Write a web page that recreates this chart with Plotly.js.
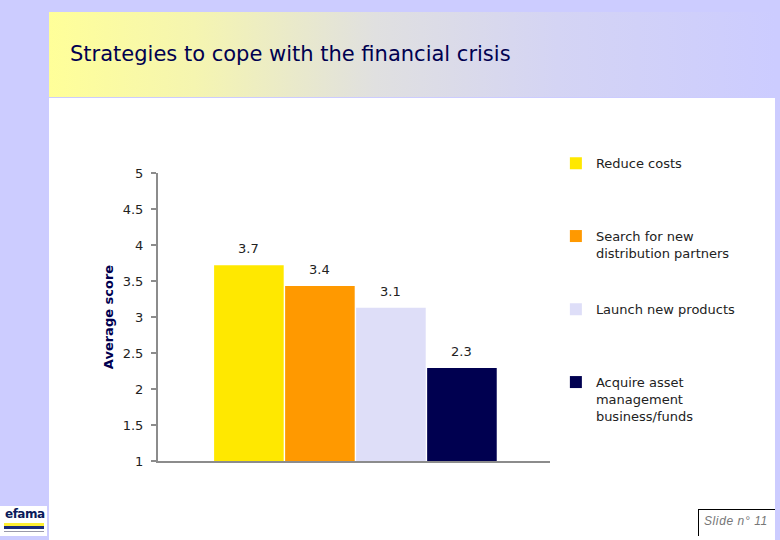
<!DOCTYPE html>
<html>
<head>
<meta charset="utf-8">
<script src="https://cdn.plot.ly/plotly-3.0.1.min.js"></script>
<style>
  html, body { margin: 0; padding: 0; }
  body { width: 780px; height: 540px; background: #ccccff; position: relative; overflow: hidden; }
  .banner { position: absolute; left: 49px; top: 12px; width: 726px; height: 85px;
            background: linear-gradient(to right, #ffff99 0%, #f5f5b0 20%, #e0e0e0 45%, #d4d4f4 70%, #ccccff 100%); }
  .panel { position: absolute; left: 49px; top: 98px; width: 726px; height: 442px; background: #ffffff; }
  .logo { position: absolute; left: 0; top: 506px; width: 47px; height: 30px; background: #ffffff; }
  .logo .word { position: absolute; left: 5px; top: 1px; font: bold 12px "DejaVu Sans", sans-serif; color: #0a1a5a; letter-spacing: -0.5px; }
  .logo .y { position: absolute; left: 4px; top: 17px; width: 40px; height: 3px; background: #ffee33; }
  .logo .b { position: absolute; left: 4px; top: 20px; width: 40px; height: 3px; background: #1a2a7a; }
  .logo .t { position: absolute; left: 4px; top: 25px; width: 40px; height: 1px; background: #9999aa; }
  .slide { position: absolute; left: 698px; top: 509px; width: 76px; height: 26px;
           border-top: 1px solid #000; border-left: 1px solid #000; }
  .slide span { position: absolute; left: 5px; top: 4px; font: italic 12px "Liberation Sans", sans-serif; color: #777777; letter-spacing: 0.6px; }
  #chart { position: absolute; left: 0; top: 0; width: 780px; height: 540px; }
</style>
</head>
<body>
<div class="banner"></div>
<div class="panel"></div>
<div class="logo"><div class="word">efama</div><div class="y"></div><div class="b"></div><div class="t"></div></div>
<div class="slide"><span>Slide n° 11</span></div>
<div id="chart"></div>
<script>
// one bar per strategy, each its own trace so each gets a legend entry
const strategies = ['Reduce costs', 'Search for new<br>distribution partners', 'Launch new products', 'Acquire asset<br>management<br>business/funds'];
const positions = [0, 1, 2, 3];
const scores = [3.72, 3.43, 3.13, 2.29];
const scoreLabels = ['3.7', '3.4', '3.1', '2.3'];
const barColors = ['#ffe800', '#ff9900', '#dedef8', '#000050'];

const legendNames = ['legend', 'legend2', 'legend3', 'legend4'];
const legendY = [1.086, 0.833, 0.579, 0.326];

let traces = strategies.map((name, i) => ({
    type: 'bar',
    x: [positions[i]],
    y: [scores[i]],
    width: 0.98,
    name: name,
    legend: legendNames[i],
    marker: { color: barColors[i], line: { width: 0 } },
    hoverinfo: 'skip'
}));

let annotations = scores.map((s, i) => ({
    x: positions[i],
    y: s,
    xref: 'x',
    yref: 'y',
    text: scoreLabels[i],
    showarrow: false,
    yanchor: 'bottom',
    yshift: 7,
    font: { family: 'DejaVu Sans, sans-serif', size: 13, color: '#222222' }
}));

let layout = {
    width: 780,
    height: 540,
    paper_bgcolor: 'rgba(0,0,0,0)',
    plot_bgcolor: 'rgba(0,0,0,0)',
    margin: { l: 158, r: 230, t: 173, b: 79 },
    showlegend: true,
    font: { family: 'DejaVu Sans, sans-serif', size: 13, color: '#222222' },
    title: {
        text: 'Strategies to cope with the financial crisis',
        xref: 'container', yref: 'container',
        x: 70 / 780, xanchor: 'left',
        y: 1 - 54 / 540, yanchor: 'middle',
        font: { family: 'DejaVu Sans, sans-serif', size: 21, color: '#000050' }
    },
    xaxis: {
        range: [-1.28, 4.24],
        showline: true, linecolor: '#8c8c8c', linewidth: 2,
        showticklabels: false, ticks: '', showgrid: false, zeroline: false,
        fixedrange: true
    },
    yaxis: {
        range: [1, 5],
        dtick: 0.5,
        showline: true, linecolor: '#8c8c8c', linewidth: 2,
        ticks: 'outside', ticklen: 5, tickwidth: 2, tickcolor: '#8c8c8c',
        ticklabelstandoff: 5,
        showgrid: false, zeroline: false,
        tickfont: { family: 'DejaVu Sans, sans-serif', size: 13, color: '#222222' },
        title: {
            text: 'Average score',
            standoff: 6,
            font: { family: 'DejaVu Sans, sans-serif', size: 13, color: '#000050', weight: 'bold' }
        },
        fixedrange: true
    },
    annotations: annotations
};

legendNames.forEach((ln, i) => {
    layout[ln] = {
        x: 1.015, xanchor: 'left',
        y: legendY[i], yanchor: 'top',
        valign: 'top',
        bgcolor: 'rgba(0,0,0,0)',
        itemclick: false, itemdoubleclick: false,
        font: { family: 'DejaVu Sans, sans-serif', size: 13, color: '#222222' }
    };
});

Plotly.newPlot('chart', traces, layout, { displayModeBar: false, staticPlot: true });
</script>
</body>
</html>
